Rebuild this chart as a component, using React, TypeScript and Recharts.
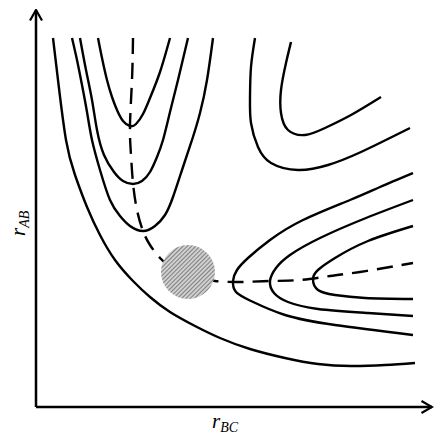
import { LineChart, Line, XAxis, YAxis, ReferenceDot, Label } from "recharts";

type Pt = [number, number];

// contour lines (r_BC, r_AB in arbitrary units)
const outerContour: Pt[] = [
  [17, 369], [22, 327], [30, 267], [39, 232], [51, 200], [64, 172], [79, 147],
  [97, 126], [114, 110], [134, 95], [159, 81], [184, 69], [214, 58], [249, 49],
  [282, 43], [315, 41], [349, 42], [379, 44],
];
const wellInner: Pt[] = [
  [62, 369], [66, 349], [71, 327], [76, 310], [81, 297], [87, 286], [94, 281],
  [100, 283], [107, 293], [114, 309], [124, 335], [134, 369],
];
const wellMiddle: Pt[] = [
  [44, 369], [50, 337], [56, 307], [61, 277], [68, 252], [78, 235], [87, 226],
  [97, 223], [106, 226], [114, 235], [121, 250], [127, 267], [134, 295],
  [142, 327], [152, 369],
];
const wellOuter: Pt[] = [
  [36, 369], [41, 347], [46, 322], [51, 295], [56, 267], [64, 237], [74, 207],
  [84, 191], [94, 181], [107, 176], [119, 181], [129, 192], [137, 210],
  [147, 240], [156, 267], [164, 294], [171, 327], [177, 369],
];
const plateauOuter: Pt[] = [
  [219, 369], [215, 340], [214, 310], [215, 284], [222, 260], [235, 244],
  [262, 237], [292, 242], [325, 255], [374, 279],
];
const plateauInner: Pt[] = [
  [255, 365], [250, 344], [245, 317], [245, 294], [252, 277], [269, 272],
  [289, 279], [315, 292], [345, 310],
];
const channelOuter: Pt[] = [
  [377, 234], [344, 220], [314, 207], [267, 187], [234, 167], [212, 149],
  [201, 137], [197, 126], [200, 115], [215, 106], [249, 92], [299, 82], [377, 72],
];
const channelMiddle: Pt[] = [
  [377, 207], [330, 189], [284, 169], [254, 152], [240, 139], [234, 126],
  [238, 114], [252, 105], [282, 98], [332, 94], [377, 91],
];
const channelInner: Pt[] = [
  [377, 181], [332, 166], [299, 149], [282, 137], [277, 128], [282, 117],
  [299, 112], [329, 109], [377, 108],
];
const reactionPath: Pt[] = [
  [97, 369], [96, 327], [94, 282], [95, 252], [97, 224], [101, 197], [107, 176],
  [114, 162], [124, 149], [139, 137], [159, 130], [179, 126], [204, 125],
  [234, 126], [264, 127], [294, 131], [324, 135], [354, 140], [377, 144],
];
const transitionState = { x: 152, y: 135 };

const contours = [
  outerContour, wellInner, wellMiddle, wellOuter, plateauOuter, plateauInner,
  channelOuter, channelMiddle, channelInner,
];

const toRows = (pts: Pt[]) => pts.map(([x, y]) => ({ x, y }));

const serif = "'Liberation Serif', 'DejaVu Serif', serif";

function XLabel() {
  return (
    <text x={212} y={428} fontFamily={serif} fontStyle="italic" fill="#000">
      <tspan fontSize={21}>r</tspan>
      <tspan fontSize={14} dy={4}>BC</tspan>
    </text>
  );
}

function YLabel() {
  return (
    <text
      x={0}
      y={0}
      transform="translate(25 236) rotate(-90)"
      fontFamily={serif}
      fontStyle="italic"
      fill="#000"
    >
      <tspan fontSize={21}>r</tspan>
      <tspan fontSize={14} dy={4}>AB</tspan>
    </text>
  );
}

export default function App() {
  return (
    <div style={{ position: "absolute", left: 0, top: 0, width: 436, height: 437, background: "#fff" }}>
      <svg width={0} height={0} style={{ position: "absolute" }}>
        <defs>
          <marker
            id="arrow"
            viewBox="0 0 14 14"
            refX={12.5}
            refY={7}
            markerWidth={14}
            markerHeight={14}
            markerUnits="userSpaceOnUse"
            orient="auto-start-reverse"
          >
            <path d="M2,1 L12.5,7 L2,13" fill="none" stroke="#000" strokeWidth={2.2} />
          </marker>
          <pattern
            id="hatch"
            width={3}
            height={3}
            patternUnits="userSpaceOnUse"
            patternTransform="rotate(45)"
          >
            <rect width={3} height={3} fill="#d0d0d0" />
            <line x1={0} y1={0} x2={0} y2={3} stroke="#555" strokeWidth={1.3} />
          </pattern>
        </defs>
      </svg>
      <LineChart width={436} height={437} margin={{ top: 10, right: 4, left: 0, bottom: 0 }}>
        <XAxis
          type="number"
          dataKey="x"
          domain={[0, 396]}
          height={30}
          tick={false}
          tickLine={false}
          axisLine={{ stroke: "#000", strokeWidth: 2.5, markerEnd: "url(#arrow)" } as any}
        >
          <Label content={XLabel} />
        </XAxis>
        <YAxis
          type="number"
          dataKey="y"
          domain={[0, 397]}
          width={36}
          tick={false}
          tickLine={false}
          axisLine={{ stroke: "#000", strokeWidth: 2.5, markerStart: "url(#arrow)" } as any}
        >
          <Label content={YLabel} />
        </YAxis>
        <ReferenceDot
          x={transitionState.x}
          y={transitionState.y}
          r={27}
          fill="url(#hatch)"
          stroke="none"
        />
        {contours.map((c, i) => (
          <Line
            key={i}
            data={toRows(c)}
            dataKey="y"
            type="natural"
            stroke="#000"
            strokeWidth={2.4}
            dot={false}
            isAnimationActive={false}
          />
        ))}
        <Line
          data={toRows(reactionPath)}
          dataKey="y"
          type="natural"
          stroke="#000"
          strokeWidth={2.4}
          strokeDasharray="16 9"
          dot={false}
          isAnimationActive={false}
        />
      </LineChart>
    </div>
  );
}
